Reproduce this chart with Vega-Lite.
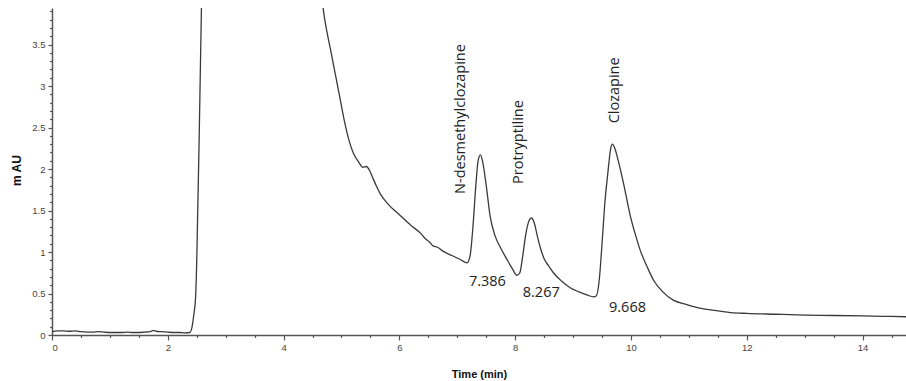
{
  "$schema": "https://vega.github.io/schema/vega-lite/v6.json",
  "width": 854,
  "height": 327,
  "autosize": "none",
  "padding": {"left": 52, "top": 8, "right": 0, "bottom": 46},
  "background": "white",
  "config": {"view": {"stroke": null}, "axis": {"grid": false}},
  "datasets": {
    "trace": [
      {"t": 0, "y": 0.04}, {"t": 0.1, "y": 0.05}, {"t": 0.2, "y": 0.05}, {"t": 0.3, "y": 0.045},
      {"t": 0.4, "y": 0.05}, {"t": 0.5, "y": 0.04}, {"t": 0.6, "y": 0.035}, {"t": 0.7, "y": 0.035},
      {"t": 0.8, "y": 0.04}, {"t": 0.9, "y": 0.035}, {"t": 1.0, "y": 0.03}, {"t": 1.1, "y": 0.03},
      {"t": 1.2, "y": 0.03}, {"t": 1.3, "y": 0.035}, {"t": 1.4, "y": 0.03}, {"t": 1.5, "y": 0.03},
      {"t": 1.6, "y": 0.035}, {"t": 1.7, "y": 0.04}, {"t": 1.75, "y": 0.055}, {"t": 1.8, "y": 0.045},
      {"t": 1.9, "y": 0.04}, {"t": 2.0, "y": 0.035}, {"t": 2.1, "y": 0.03}, {"t": 2.2, "y": 0.03},
      {"t": 2.3, "y": 0.025}, {"t": 2.38, "y": 0.03}, {"t": 2.42, "y": 0.1}, {"t": 2.45, "y": 0.25},
      {"t": 2.48, "y": 0.45}, {"t": 2.5, "y": 0.9}, {"t": 2.52, "y": 1.6}, {"t": 2.54, "y": 2.3},
      {"t": 2.56, "y": 3.1}, {"t": 2.58, "y": 3.9}, {"t": 2.6, "y": 4.6}, {"t": 4.6, "y": 4.6},
      {"t": 4.69, "y": 3.9}, {"t": 4.75, "y": 3.65}, {"t": 4.81, "y": 3.44}, {"t": 4.9, "y": 3.12},
      {"t": 4.98, "y": 2.83}, {"t": 5.05, "y": 2.58}, {"t": 5.12, "y": 2.37}, {"t": 5.2, "y": 2.2},
      {"t": 5.3, "y": 2.08}, {"t": 5.37, "y": 2.02}, {"t": 5.43, "y": 2.03}, {"t": 5.48, "y": 1.99},
      {"t": 5.53, "y": 1.91}, {"t": 5.6, "y": 1.8}, {"t": 5.67, "y": 1.7}, {"t": 5.8, "y": 1.58},
      {"t": 6.0, "y": 1.45}, {"t": 6.2, "y": 1.32}, {"t": 6.36, "y": 1.23}, {"t": 6.45, "y": 1.16},
      {"t": 6.52, "y": 1.12}, {"t": 6.59, "y": 1.07}, {"t": 6.65, "y": 1.06}, {"t": 6.75, "y": 1.01},
      {"t": 6.9, "y": 0.96}, {"t": 7.05, "y": 0.91}, {"t": 7.17, "y": 0.87}, {"t": 7.22, "y": 0.95},
      {"t": 7.27, "y": 1.3}, {"t": 7.32, "y": 1.8}, {"t": 7.36, "y": 2.1}, {"t": 7.4, "y": 2.17},
      {"t": 7.44, "y": 2.08}, {"t": 7.5, "y": 1.8}, {"t": 7.57, "y": 1.42}, {"t": 7.65, "y": 1.2},
      {"t": 7.74, "y": 1.06}, {"t": 7.85, "y": 0.92}, {"t": 7.95, "y": 0.8}, {"t": 8.03, "y": 0.72},
      {"t": 8.08, "y": 0.75}, {"t": 8.13, "y": 0.95}, {"t": 8.18, "y": 1.2}, {"t": 8.23, "y": 1.36},
      {"t": 8.28, "y": 1.41}, {"t": 8.33, "y": 1.35}, {"t": 8.38, "y": 1.2}, {"t": 8.43, "y": 1.06},
      {"t": 8.5, "y": 0.92}, {"t": 8.58, "y": 0.83}, {"t": 8.66, "y": 0.75}, {"t": 8.8, "y": 0.65},
      {"t": 8.95, "y": 0.57}, {"t": 9.1, "y": 0.52}, {"t": 9.25, "y": 0.48}, {"t": 9.35, "y": 0.46},
      {"t": 9.4, "y": 0.47}, {"t": 9.45, "y": 0.65}, {"t": 9.5, "y": 1.1}, {"t": 9.55, "y": 1.6},
      {"t": 9.6, "y": 1.95}, {"t": 9.65, "y": 2.25}, {"t": 9.68, "y": 2.3}, {"t": 9.72, "y": 2.25},
      {"t": 9.78, "y": 2.1}, {"t": 9.87, "y": 1.83}, {"t": 9.99, "y": 1.43}, {"t": 10.08, "y": 1.2},
      {"t": 10.16, "y": 1.02}, {"t": 10.28, "y": 0.82}, {"t": 10.39, "y": 0.66}, {"t": 10.55, "y": 0.52},
      {"t": 10.73, "y": 0.42}, {"t": 10.95, "y": 0.37}, {"t": 11.15, "y": 0.33}, {"t": 11.4, "y": 0.3},
      {"t": 11.72, "y": 0.27}, {"t": 12.0, "y": 0.26}, {"t": 12.5, "y": 0.25}, {"t": 13.0, "y": 0.24},
      {"t": 13.5, "y": 0.235}, {"t": 14.0, "y": 0.23}, {"t": 14.5, "y": 0.225}, {"t": 14.75, "y": 0.22}
    ],
    "names": [
      {"t": 7.07, "y": 1.7, "label": "N-desmethylclozapine"},
      {"t": 8.06, "y": 1.82, "label": "Protryptiline"},
      {"t": 9.73, "y": 2.55, "label": "Clozapine"}
    ],
    "times": [
      {"t": 7.52, "y": 0.64, "label": "7.386"},
      {"t": 8.45, "y": 0.51, "label": "8.267"},
      {"t": 9.94, "y": 0.33, "label": "9.668"}
    ]
  },
  "layer": [
    {
      "data": {"name": "trace"},
      "mark": {"type": "line", "color": "#3a3a3a", "strokeWidth": 1.3, "clip": true, "interpolate": "monotone"},
      "encoding": {
        "x": {
          "field": "t", "type": "quantitative",
          "scale": {"domain": [0, 14.75], "nice": false, "zero": false},
          "axis": {
            "orient": "bottom", "title": "Time (min)", "values": [0, 2, 4, 6, 8, 10, 12, 14],
            "domainColor": "#555", "domainWidth": 1.5, "tickColor": "#555", "tickSize": 5, "tickWidth": 1.2,
            "labelFont": "Liberation Sans", "labelFontSize": 9.5, "labelColor": "#444", "labelPadding": 2,
            "titleFont": "Liberation Sans", "titleFontSize": 11, "titleFontWeight": "bold", "titleColor": "#111",
            "titleBaseline": "alphabetic", "titleY": 42
          }
        },
        "y": {
          "field": "y", "type": "quantitative",
          "scale": {"domain": [0, 3.94], "nice": false, "zero": false},
          "axis": {
            "orient": "left", "title": "m AU", "values": [0, 0.5, 1, 1.5, 2, 2.5, 3, 3.5],
            "labelExpr": "'' + datum.value",
            "domainColor": "#555", "domainWidth": 1.5, "tickColor": "#555", "tickSize": 4, "tickWidth": 1.2,
            "labelFont": "Liberation Sans", "labelFontSize": 9.5, "labelColor": "#444", "labelPadding": 3,
            "titleFont": "Liberation Sans", "titleFontSize": 12, "titleFontWeight": "bold", "titleColor": "#111",
            "titleX": -29, "titleY": 162, "titleAngle": -90, "titleBaseline": "bottom", "titleAlign": "center"
          }
        }
      }
    },
    {
      "data": {"name": "names"},
      "mark": {"type": "text", "angle": 270, "align": "left", "baseline": "middle", "font": "Open Sans", "fontSize": 14.5, "color": "#222"},
      "encoding": {
        "x": {
          "field": "t", "type": "quantitative",
          "axis": {
            "orient": "bottom", "title": null, "labels": false, "domain": false,
            "values": [0.5, 1, 1.5, 2.5, 3, 3.5, 4.5, 5, 5.5, 6.5, 7, 7.5, 8.5, 9, 9.5, 10.5, 11, 11.5, 12.5, 13, 13.5, 14.5],
            "tickColor": "#555", "tickSize": 2.5, "tickWidth": 1.2
          }
        },
        "y": {
          "field": "y", "type": "quantitative",
          "axis": {
            "orient": "left", "title": null, "labels": false, "domain": false,
            "values": [0.1, 0.2, 0.3, 0.4, 0.6, 0.7, 0.8, 0.9, 1.1, 1.2, 1.3, 1.4, 1.6, 1.7, 1.8, 1.9, 2.1, 2.2, 2.3, 2.4, 2.6, 2.7, 2.8, 2.9, 3.1, 3.2, 3.3, 3.4, 3.6, 3.7, 3.8, 3.9],
            "tickColor": "#555", "tickSize": 2.5, "tickWidth": 1.2
          }
        },
        "text": {"field": "label"}
      }
    },
    {
      "data": {"name": "times"},
      "mark": {"type": "text", "align": "center", "baseline": "middle", "font": "Open Sans", "fontSize": 14.5, "color": "#222"},
      "encoding": {
        "x": {"field": "t", "type": "quantitative", "axis": null},
        "y": {"field": "y", "type": "quantitative", "axis": null},
        "text": {"field": "label"}
      }
    }
  ],
  "resolve": {"axis": {"x": "independent", "y": "independent"}}
}
